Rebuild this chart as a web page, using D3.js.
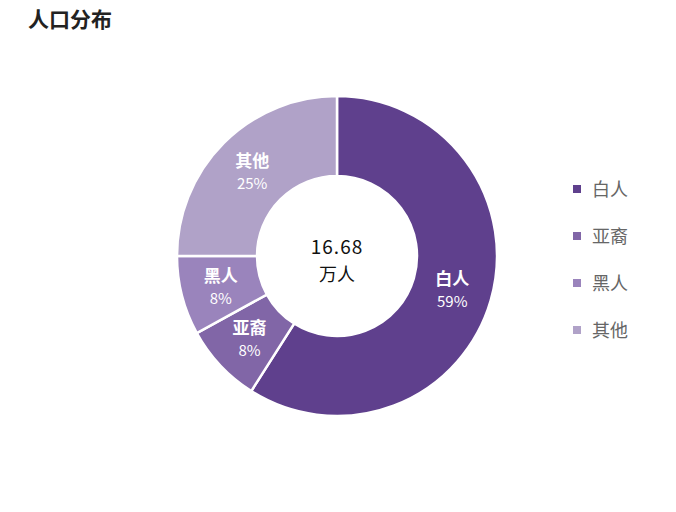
<!DOCTYPE html>
<html><head><meta charset="utf-8">
<script src="https://cdn.jsdelivr.net/npm/d3@7"></script>
<style>body{margin:0;background:#fff;font-family:"Noto Sans CJK SC",sans-serif;}</style>
</head><body>
<svg id="chart" width="676" height="512"></svg>
<script>
const categories = ['白人', '亚裔', '黑人', '其他'];
const shares = [59, 8, 8, 25];
const colors = ['#5f408d', '#8166a7', '#9a84bc', '#b0a2c8'];
const totalLabel = ['16.68', '万人'];

const svg = d3.select('#chart');
svg.append('text').attr('x', 28).attr('y', 27)
    .attr('font-size', 21).attr('font-weight', 'bold').attr('fill', '#222')
    .text('人口分布');

const cx = 337, cy = 256, outer = 160, inner = 80;
const g = svg.append('g').attr('transform', `translate(${cx},${cy})`);
const pie = d3.pie().sort(null).value(d => d);
const arcs = pie(shares);
const arc = d3.arc().innerRadius(inner).outerRadius(outer);
const labelArc = d3.arc().innerRadius(120).outerRadius(120);

g.selectAll('path').data(arcs).enter().append('path')
    .attr('d', arc)
    .attr('fill', (d, i) => colors[i])
    .attr('stroke', '#fff').attr('stroke-width', 2.5);

const labels = g.selectAll('g.lbl').data(arcs).enter().append('g')
    .attr('transform', d => `translate(${labelArc.centroid(d)})`)
    .attr('fill', '#fff').attr('text-anchor', 'middle');
labels.append('text').attr('y', -4).attr('font-size', 17).attr('font-weight', 'bold')
    .text((d, i) => categories[i]);
labels.append('text').attr('y', 18).attr('font-size', 15)
    .text(d => d.data + '%');

g.append('text').attr('text-anchor', 'middle').attr('y', -2)
    .attr('font-size', 19).attr('letter-spacing', 1).attr('fill', '#111').text(totalLabel[0]);
g.append('text').attr('text-anchor', 'middle').attr('y', 25)
    .attr('font-size', 18).attr('fill', '#111').text(totalLabel[1]);

const y = d3.scalePoint().domain(categories).range([189, 330]);
const leg = svg.selectAll('g.leg').data(categories).enter().append('g')
    .attr('transform', d => `translate(573,${y(d)})`);
leg.append('rect').attr('x', 0).attr('y', -4).attr('width', 8).attr('height', 8)
    .attr('fill', (d, i) => colors[i]);
leg.append('text').attr('x', 19).attr('y', 7).attr('font-size', 18).attr('fill', '#666')
    .text(d => d);
</script>
</body></html>
